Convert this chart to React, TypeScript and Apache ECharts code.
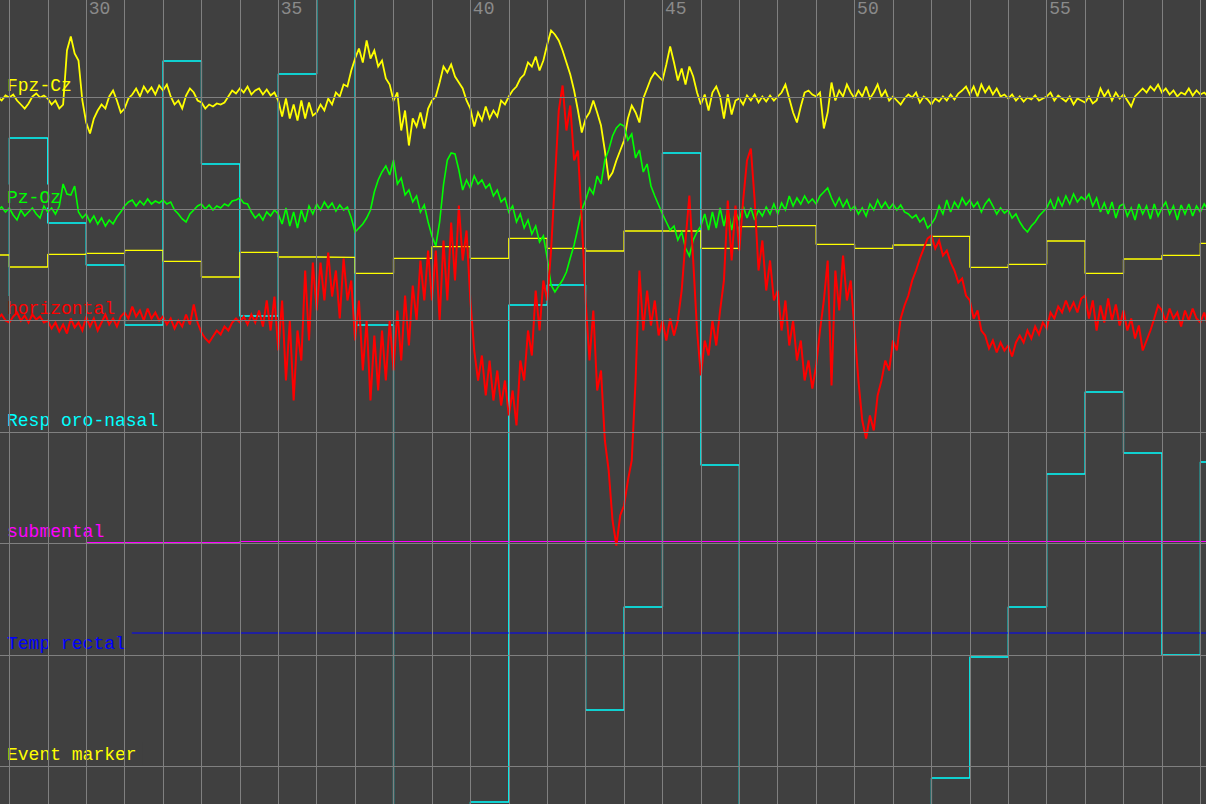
import React, { useEffect, useRef } from "react";
import * as echarts from "echarts";

// ---------- channels ----------
const CHANNELS = ["Fpz-Cz", "Pz-Oz", "horizontal", "Resp oro-nasal", "submental", "Temp rectal", "Event marker"];
const CHANNEL_COLORS = ["#ffff00", "#00ff00", "#ff0000", "#00ffff", "#ff00ff", "#0000ff", "#ffff00"];

// ---------- time axis ----------
const TICK_LABELS = [30, 35, 40, 45, 50, 55];
const GRID_SECONDS = [28, 29, 30, 31, 32, 33, 34, 35, 36, 37, 38, 39, 40, 41, 42, 43, 44, 45, 46, 47, 48, 49, 50, 51, 52, 53, 54, 55, 56, 57, 58, 59];

// sampled signals: one value every 0.1 s starting at 27.7 s (amplitude, up = positive)
const SAMPLE_START = 27.7;
const SAMPLE_STEP = 0.1;

const fpzCz = [
  0, -3, 2,
  0, 3, -3, -7, -11, -6, 1, 4, 0, 2, // 28
  -1, -7, -3, -11, -7, 47, 61, 44, 37, -3, // 29
  -25, -36, -21, -13, -7, -11, 1, 7, -3, -15, // 30
  -11, -1, 3, 9, 1, 11, 5, 10, 3, 12, // 31
  7, 13, 1, -7, -3, -11, 2, 9, 5, -3, // 32
  -5, -11, -7, -9, -6, -7, -5, 1, 7, 4, // 33
  9, 5, 11, 3, 7, 9, 3, 8, 2, 5, // 34
  -3, -19, -1, -21, -7, -23, -3, -21, -5, -18, // 35
  -15, -7, -13, -1, -7, 5, 1, 13, 11, 27, // 36
  39, 49, 35, 57, 39, 47, 31, 37, 19, 13, // 37
  -3, 5, -33, -13, -48, -21, -29, -15, -31, -11, // 38
  -3, 1, 15, 31, 25, 33, 21, 15, 9, -3, // 39
  -11, -29, -15, -23, -9, -21, -13, -19, -3, -7, // 40
  1, 7, 11, 19, 23, 35, 31, 41, 27, 37, // 41
  53, 67, 63, 57, 47, 35, 23, 7, -13, -35, // 42
  -21, -15, -3, -15, -28, -53, -81, -75, -63, -53, // 43
  -43, -21, -8, -15, -25, -1, 9, 19, 25, 21, // 44
  17, 33, 51, 35, 17, 29, 13, 31, 21, 5, // 45
  -7, 3, -13, 5, 11, 1, -21, 3, -17, -3, // 46
  -1, -7, 2, -3, 3, -5, 1, -4, 2, -3, // 47
  1, 5, 13, -1, -15, -25, -9, 5, 7, 3, // 48
  1, 5, -31, -15, 15, -3, 7, 1, 13, 5, // 49
  -1, 7, 1, 11, -1, 5, 13, 1, 7, -3, // 50
  1, -3, -7, -1, 3, 0, 5, -5, 1, -2, // 51
  -7, -1, -4, 1, -3, 3, -2, 4, 7, 11, // 52
  3, 11, 1, 13, 5, 11, 3, 9, 1, 3, // 53
  -1, 3, -3, 1, -4, 0, -2, 2, -3, -1, // 54
  1, 5, -3, 2, -1, -4, 1, -7, -1, -3, // 55
  -5, 1, -6, -3, 9, 1, 7, -3, 5, -1, // 56
  3, -3, -9, 1, 5, 9, 5, 11, 7, 13, // 57
  5, 9, 3, 7, 1, 5, 3, 9, 2, 7, // 58
  3, 5, 1, // 59
];

const pzOz = [
  -1, 2, -3,
  1, -6, -11, -1, -7, -3, 1, -5, -9, 3, // 28
  -3, 1, -5, 3, 25, 15, 14, 23, -3, -9, // 29
  -5, -13, -7, -15, -9, -17, -11, -15, -8, -3, // 30
  3, 7, 9, 3, 8, 4, 10, 5, 8, 6, // 31
  9, 5, 7, -1, -5, -10, -13, -5, -1, 3, // 32
  5, 0, 4, -1, 3, 1, 5, 3, 8, 9, // 33
  11, 6, 5, -3, -9, -5, -11, -3, -7, -1, // 34
  -5, -15, 1, -17, -3, -19, -1, -13, 3, -5, // 35
  5, -1, 7, 1, 6, -2, 4, -1, 2, -9, // 36
  -23, -19, -15, -9, -1, 17, 29, 37, 43, 34, // 37
  49, 25, 31, 14, 19, 7, 13, -3, 4, -13, // 38
  -27, -37, -13, 24, 49, 56, 55, 39, 19, 29, // 39
  21, 33, 25, 29, 21, 25, 13, 19, 7, 11, // 40
  -3, 3, -13, -5, -19, -11, -25, -17, -33, -27, // 41
  -49, -76, -83, -77, -71, -63, -49, -36, -19, -1, // 42
  9, 21, 15, 33, 25, 49, 59, 73, 81, 85, // 43
  83, 69, 75, 51, 59, 37, 45, 23, 13, 4, // 44
  -5, -13, -21, -17, -31, -23, -39, -47, -31, -23, // 45
  -17, -5, -21, -3, -19, 1, -17, -1, -21, -3, // 46
  -11, 3, -9, 1, -11, -1, -7, 2, -5, 5, // 47
  -5, 6, -1, 13, 3, 11, 5, 13, 6, 10, // 48
  5, 13, 17, 21, 11, 3, 11, 2, 9, -1, // 49
  3, -5, 1, -7, 5, -1, 9, 1, 7, 0, // 50
  5, -1, 4, -3, -5, -9, -6, -13, -9, -19, // 51
  -15, -9, 3, -5, 9, -3, 7, 1, 11, 4, // 52
  9, 2, 7, -3, 5, 10, 3, -5, 1, -4, // 53
  -1, -9, -5, -13, -19, -23, -17, -13, -7, -3, // 54
  1, 9, -1, 11, 3, 13, 5, 15, 7, 12, // 55
  9, 15, 3, 11, -3, 6, -5, 7, -9, 3, // 56
  5, -7, 1, -11, 5, -5, 3, -10, 5, -7, // 57
  1, 7, -5, 3, -11, 4, -5, 5, -7, 3, // 58
  -3, 5, -1, // 59
];

const horizontalEog = [
  2, 6, 0,
  -2, 4, 8, 0, 5, -2, 6, 1, 4, -2, // 28
  0, -8, -2, -11, -4, -13, 2, -7, -2, -10, // 29
  4, -6, 2, -10, -2, 6, -4, 2, -6, 4, // 30
  8, 2, 14, 4, 10, 0, 12, 2, 8, 0, // 31
  4, -4, 2, -8, 0, -6, 6, -4, 16, -2, // 32
  -12, -18, -22, -16, -10, -14, -6, -10, -2, 2, // 33
  -2, 4, -4, 6, -2, 10, -6, 20, -10, 24, // 34
  -30, 20, -60, 0, -80, -10, -40, 50, -20, 58, // 35
  10, 58, 20, 68, 24, 50, 2, 62, 20, 40, // 36
  -20, 20, -50, 0, -80, -15, -70, -10, -60, 0, // 37
  -50, 10, -40, 25, -25, 35, 0, 60, 20, 70, // 38
  20, 70, 0, 80, 20, 98, 40, 115, 60, 90, // 39
  20, -30, -60, -35, -75, -40, -80, -50, -85, -60, // 40
  -95, -70, -105, -40, -60, -10, -35, 30, -10, 40, // 41
  20, 70, 140, 210, 235, 190, 215, 160, 170, 100, // 42
  20, -40, 10, -70, -50, -120, -150, -200, -225, -195, // 43
  -185, -160, -140, -60, 50, -10, 30, -5, 20, -15, // 44
  0, -20, 2, -15, 0, 30, 80, 125, 60, -10, // 45
  -55, -20, -35, 0, -25, 10, 40, 120, 60, 115, // 46
  70, 120, 160, 172, 120, 50, 80, 30, 60, 20, // 47
  30, -10, 20, -25, 0, -40, -20, -60, -40, -68, // 48
  -45, -10, 20, 60, -65, 50, 10, 65, 20, 40, // 49
  -10, -60, -100, -118, -95, -110, -75, -60, -40, -50, // 50
  -20, -30, 2, 15, 25, 40, 50, 62, 72, 82, // 51
  85, 72, 80, 65, 70, 58, 50, 38, 42, 25, // 52
  20, 2, 10, -10, -15, -28, -20, -32, -22, -30, // 53
  -25, -36, -22, -15, -22, -10, -18, -6, -14, -2, // 54
  -8, 8, 2, 14, 8, 20, 10, 18, 8, 22, // 55
  25, 2, 20, -10, 15, -2, 22, 0, 16, -5, // 56
  10, -10, 2, -18, -5, -30, -20, -10, 2, 15, // 57
  10, -2, 12, 2, 8, -6, 10, 0, 12, 2, // 58
  -2, 8, -6, // 59
];

// 1 Hz channels: one value per second starting at 27 s
const STEP_START = 27;
const respOroNasal = [122, 294, 209, 167, 107, 371, 268, 116, 358, 480, 107, -448, -460, -370, 127, 147, -278, -175, 279, -33, -470, -500, -520, -500, -460, -346, -225, -175, -42, 40, -21, -223, -30];
const eventMarker = [511.5, 499.5, 512.2, 513.2, 516.2, 505.2, 489.5, 514.2, 509.5, 509.2, 493.2, 508.2, 519.8, 508.2, 528.2, 518.2, 515.5, 535.5, 535.5, 518.2, 539.8, 540.8, 522.2, 518.2, 521.5, 530.2, 499.2, 502.2, 525.5, 493.2, 507.5, 511.2, 523.2];
const submental = [0, 0, 0, 1, 1, 1, 1, 2, 2, 2, 2, 2, 2, 2, 2, 2, 2, 2, 2, 2, 2, 2, 2, 2, 2, 2, 2, 2, 2, 2, 2, 2, 2];
const tempRectal = [22, 22, 22, 22, 22, 22, 22, 22, 22, 22, 22, 22, 22, 22, 22, 22, 22, 22, 22, 22, 22, 22, 22, 22, 22, 22, 22, 22, 22, 22, 22, 22, 22];

// ---------- layout ----------
const WIDTH = 1206;
const HEIGHT = 804;
const X_MIN = 27.757;
const X_MAX = 59.147;
const FIRST_BASELINE = 97.5;
const BAND = 111.5;
const BG = "#404040";
const GRID_COLOR = "#808080";
const FONT = '18px "Liberation Mono", "DejaVu Sans Mono", monospace';

const baseline = (ch: number) => FIRST_BASELINE + BAND * ch;

function sampledSeries(name: string, values: number[], ch: number, color: string, width: number, z: number) {
  const data = values.map((v, i) => [Math.round((SAMPLE_START + i * SAMPLE_STEP) * 100) / 100, baseline(ch) - v]);
  return {
    name, type: "line", data, showSymbol: false, symbol: "none", silent: true, z, clip: true,
    lineStyle: { color, width, join: "miter", miterLimit: 3 }, itemStyle: { color },
  };
}

function stepSeries(name: string, values: number[], ch: number, color: string, width: number, z: number) {
  const data = values.map((v, i) => [STEP_START + i, baseline(ch) - v]);
  data.push([STEP_START + values.length, baseline(ch) - values[values.length - 1]]);
  return {
    name, type: "line", step: "end", data, showSymbol: false, symbol: "none", silent: true, z, clip: true,
    lineStyle: { color, width }, itemStyle: { color },
  };
}

export default function App() {
  const ref = useRef<HTMLDivElement>(null);

  useEffect(() => {
    document.body.style.margin = "0";
    document.body.style.overflow = "hidden";
    const chart = echarts.init(ref.current as HTMLDivElement, null, { renderer: "svg", width: WIDTH, height: HEIGHT });

    const gridSeries = {
      name: "grid", type: "line", data: [], silent: true, z: 1,
      markLine: {
        silent: true, symbol: ["none", "none"], animation: false,
        label: { show: false },
        lineStyle: { color: GRID_COLOR, width: 1, type: "solid" },
        emphasis: { disabled: true },
        data: [
          ...GRID_SECONDS.map((t) => ({ xAxis: t })),
          ...CHANNELS.map((_, k) => ({ yAxis: baseline(k) })),
        ],
      },
    };

    chart.setOption({
      animation: false,
      backgroundColor: BG,
      grid: { left: 0, right: 0, top: 0, bottom: 0 },
      xAxis: { type: "value", min: X_MIN, max: X_MAX, show: false },
      yAxis: { type: "value", inverse: true, min: 0, max: HEIGHT, show: false },
      series: [
        gridSeries,
        stepSeries("Resp oro-nasal", respOroNasal, 3, CHANNEL_COLORS[3], 1.3, 2),
        stepSeries("Event marker", eventMarker, 6, CHANNEL_COLORS[6], 1.3, 2),
        stepSeries("submental", submental, 4, CHANNEL_COLORS[4], 1, 2),
        stepSeries("Temp rectal", tempRectal, 5, CHANNEL_COLORS[5], 1, 2),
        sampledSeries("Fpz-Cz", fpzCz, 0, CHANNEL_COLORS[0], 1.8, 4),
        sampledSeries("Pz-Oz", pzOz, 1, CHANNEL_COLORS[1], 1.6, 4),
        sampledSeries("horizontal", horizontalEog, 2, CHANNEL_COLORS[2], 2, 4),
      ],
    });

    const labelEls = CHANNELS.map((name, k) => ({
      type: "text", x: 0, y: baseline(k) - 1.5, z: 3, silent: true,
      style: {
        text: name, fill: CHANNEL_COLORS[k], font: FONT,
        backgroundColor: BG, padding: [3, 6, 0, 7], lineHeight: 20,
        align: "left", verticalAlign: "bottom",
      },
    }));
    const tickEls = TICK_LABELS.map((t) => {
      const px = chart.convertToPixel({ xAxisIndex: 0 }, t) as number;
      return {
        type: "text", x: px + 2.5, y: 1, z: 3, silent: true,
        style: { text: String(t), fill: "#8a8a8a", font: FONT, lineHeight: 16, align: "left", verticalAlign: "top" },
      };
    });
    chart.setOption({ graphic: { elements: [...labelEls, ...tickEls] } });

    return () => chart.dispose();
  }, []);

  return (
    <div
      ref={ref}
      style={{ position: "fixed", left: 0, top: 0, width: WIDTH, height: HEIGHT, background: BG }}
    />
  );
}
